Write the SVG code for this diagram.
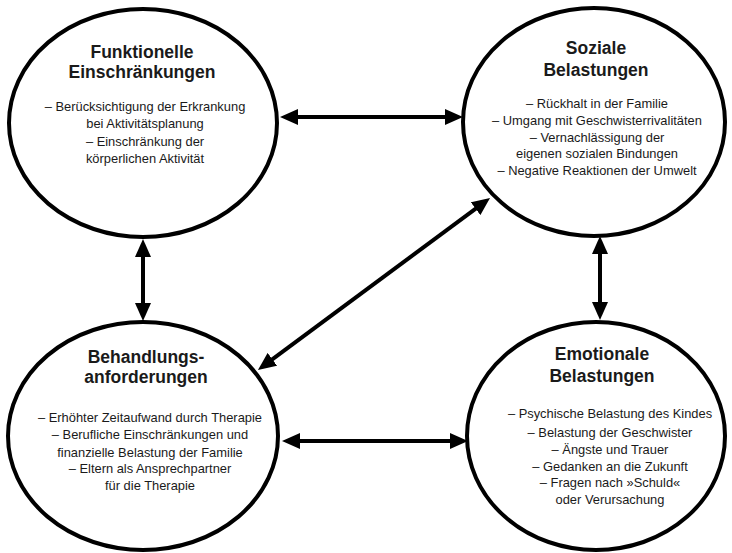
<svg xmlns="http://www.w3.org/2000/svg" width="732" height="553" viewBox="0 0 732 553">
<style>
.node{fill:#fff;stroke:#000;stroke-width:4}
.t{font-family:"Liberation Sans",Arial,sans-serif;font-weight:700;font-size:17.5px;fill:#1a1a1a;text-anchor:middle}
.b{font-family:"Liberation Sans",Arial,sans-serif;font-size:12.9px;fill:#1a1a1a;text-anchor:middle}
.c{stroke:#000;stroke-width:4;fill:none}
</style>
<defs>
<marker id="ah" markerUnits="userSpaceOnUse" markerWidth="18" markerHeight="16" refX="4" refY="8" orient="auto-start-reverse">
<path d="M0,0 L18,8 L0,16 z" fill="#000"/>
</marker>
</defs>
<rect width="732" height="553" fill="#fff"/>
<g id="n1">
<ellipse class="node" cx="143" cy="123" rx="134" ry="114"/>
<text class="t" x="142" y="58">Funktionelle</text>
<text class="t" x="142" y="78">Einschränkungen</text>
<text class="b" x="145" y="111">– Berücksichtigung der Erkrankung</text>
<text class="b" x="145" y="128">bei Aktivitätsplanung</text>
<text class="b" x="145" y="146">– Einschränkung der</text>
<text class="b" x="145" y="163">körperlichen Aktivität</text>
</g>
<g id="n2">
<ellipse class="node" cx="594" cy="122" rx="131" ry="114"/>
<text class="t" x="596" y="54">Soziale</text>
<text class="t" x="596" y="76">Belastungen</text>
<text class="b" x="597" y="108">– Rückhalt in der Familie</text>
<text class="b" x="597" y="125">– Umgang mit Geschwisterrivalitäten</text>
<text class="b" x="597" y="142">– Vernachlässigung der</text>
<text class="b" x="597" y="158">eigenen sozialen Bindungen</text>
<text class="b" x="597" y="175">– Negative Reaktionen der Umwelt</text>
</g>
<g id="n3">
<ellipse class="node" cx="143" cy="436" rx="135" ry="114"/>
<text class="t" x="146" y="363">Behandlungs-</text>
<text class="t" x="146" y="383">anforderungen</text>
<text class="b" x="150" y="422">– Erhöhter Zeitaufwand durch Therapie</text>
<text class="b" x="150" y="439">– Berufliche Einschränkungen und</text>
<text class="b" x="150" y="457">finanzielle Belastung der Familie</text>
<text class="b" x="150" y="473">– Eltern als Ansprechpartner</text>
<text class="b" x="150" y="490">für die Therapie</text>
</g>
<g id="n4">
<ellipse class="node" cx="596" cy="436" rx="129" ry="114"/>
<text class="t" x="602" y="360">Emotionale</text>
<text class="t" x="602" y="382">Belastungen</text>
<text class="b" x="610" y="418">– Psychische Belastung des Kindes</text>
<text class="b" x="610" y="437">– Belastung der Geschwister</text>
<text class="b" x="610" y="454">– Ängste und Trauer</text>
<text class="b" x="610" y="471">– Gedanken an die Zukunft</text>
<text class="b" x="610" y="487">– Fragen nach »Schuld«</text>
<text class="b" x="610" y="504">oder Verursachung</text>
</g>
<g id="connectors">
<line class="c" x1="294" y1="117" x2="449" y2="117" marker-start="url(#ah)" marker-end="url(#ah)"/>
<line class="c" x1="143" y1="253" x2="143" y2="307" marker-start="url(#ah)" marker-end="url(#ah)"/>
<line class="c" x1="600" y1="250" x2="600" y2="306" marker-start="url(#ah)" marker-end="url(#ah)"/>
<line class="c" x1="296" y1="441" x2="454" y2="441" marker-start="url(#ah)" marker-end="url(#ah)"/>
<line class="c" x1="269.2" y1="361.7" x2="478.8" y2="206.3" marker-start="url(#ah)" marker-end="url(#ah)"/>
</g>
</svg>
